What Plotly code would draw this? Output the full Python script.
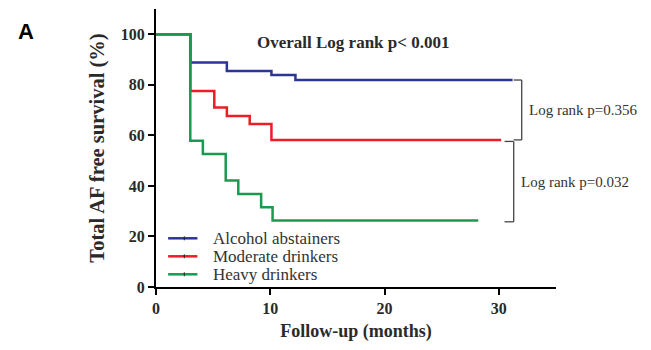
import plotly.graph_objects as go

# Kaplan-Meier step data (months, % AF-free survival)
abst_t = [0, 3, 6.2, 10.1, 12.2, 31.2]
abst_s = [100, 88.8, 85.5, 83.9, 81.9, 81.9]
mod_t = [0, 3, 5.1, 6.2, 8.2, 10.1, 30.2]
mod_s = [100, 77.6, 71.0, 67.7, 64.5, 58.2, 58.2]
heavy_t = [0, 3, 4.1, 6.1, 7.2, 9.2, 10.2, 28.2]
heavy_s = [100, 57.9, 52.6, 42.1, 36.8, 31.6, 26.3, 26.3]

names = ["Alcohol abstainers", "Moderate drinkers", "Heavy drinkers"]
colors = ["#2b3595", "#ee1c25", "#1a9a50"]

x_ticks = [0, 10, 20, 30]
y_ticks = [0, 20, 40, 60, 80, 100]

overall_p = "Overall Log rank p< 0.001"
pair_texts = ["Log rank p=0.356", "Log rank p=0.032"]

serif = "Liberation Serif, Times New Roman, serif"
txt = "#2a2a2a"

# plot-area geometry in window pixels (page body offsets the figure by 8px)
PX0, PX1, PY0, PY1 = 156.0, 552.0, 9.0, 287.0
def px(xp):
    return (xp - PX0) / (PX1 - PX0)
def py(yp):
    return (PY1 - yp) / (PY1 - PY0)

fig = go.Figure()
for t, s, c, n in zip([abst_t, mod_t, heavy_t], [abst_s, mod_s, heavy_s], colors, names):
    fig.add_trace(go.Scatter(x=t, y=s, mode="lines", name=n, line=dict(color=c, width=2.5, shape="hv"),
                             showlegend=False, hoverinfo="skip"))

# manual legend (line sample + small censor tick + label)
for i, (n, c) in enumerate(zip(names, colors)):
    yy = 238.3 + 18 * i
    fig.add_shape(type="line", xref="paper", yref="paper", x0=px(168), x1=px(197), y0=py(yy), y1=py(yy),
                  line=dict(color=c, width=2.5))
    fig.add_shape(type="line", xref="paper", yref="paper", x0=px(184), x1=px(184), y0=py(yy - 2), y1=py(yy + 2),
                  line=dict(color="#222", width=1))
    fig.add_annotation(x=px(210), y=py(yy), xref="paper", yref="paper", text=n, showarrow=False,
                       xanchor="left", yanchor="middle", font=dict(family=serif, size=17, color="#333"))

# brackets
br = dict(type="line", xref="x", yref="y", line=dict(color="#444", width=1.3))
b1x, b1l = 32.0, 31.3
fig.add_shape(**br, x0=b1x, x1=b1x, y0=abst_s[-1], y1=mod_s[-1])
fig.add_shape(**br, x0=b1l, x1=b1x, y0=abst_s[-1], y1=abst_s[-1])
fig.add_shape(**br, x0=b1l, x1=b1x, y0=mod_s[-1], y1=mod_s[-1])
b2x, b2l = 31.3, 30.5
fig.add_shape(**br, x0=b2x, x1=b2x, y0=mod_s[-1] - 0.6, y1=heavy_s[-1] - 0.5)
fig.add_shape(**br, x0=b2l, x1=b2x, y0=mod_s[-1] - 0.6, y1=mod_s[-1] - 0.6)
fig.add_shape(**br, x0=b2l, x1=b2x, y0=heavy_s[-1] - 0.5, y1=heavy_s[-1] - 0.5)

fig.add_annotation(x=px(351), y=py(42), xref="paper", yref="paper", text=overall_p, showarrow=False,
                   yanchor="middle", font=dict(family=serif, size=17, color=txt, weight="bold"))
fig.add_annotation(x=px(523), y=py(110), xref="paper", yref="paper", text=pair_texts[0], showarrow=False,
                   xanchor="left", yanchor="middle", font=dict(family=serif, size=15, color="#333"))
fig.add_annotation(x=px(515), y=py(182), xref="paper", yref="paper", text=pair_texts[1], showarrow=False,
                   xanchor="left", yanchor="middle", font=dict(family=serif, size=15, color="#333"))
fig.add_annotation(x=px(17), y=py(31.5), xref="paper", yref="paper", text="A", showarrow=False,
                   xanchor="left", yanchor="middle",
                   font=dict(family="Liberation Sans, Arial", size=22, color="black", weight="bold"))

axis_common = dict(showline=True, linecolor="black", linewidth=2, ticks="outside", ticklen=6,
                   tickwidth=2, tickcolor="black", showgrid=False, zeroline=False, automargin=False,
                   tickfont=dict(family=serif, size=16, color=txt, weight="bold"))
fig.update_xaxes(range=[0, 35], tickvals=x_ticks, **axis_common,
                 title=dict(text="Follow-up (months)", font=dict(family=serif, size=18, color=txt, weight="bold"),
                            standoff=12))
fig.update_yaxes(range=[0, 110], tickvals=y_ticks, **axis_common,
                 title=dict(text="Total AF free survival (%)", font=dict(family=serif, size=20.5, color=txt, weight="bold"),
                            standoff=11))

fig.update_layout(width=643, height=334, margin=dict(l=148, r=95, t=1, b=55, autoexpand=False),
                  plot_bgcolor="white", paper_bgcolor="white", showlegend=False)
fig.write_html("out.html")
